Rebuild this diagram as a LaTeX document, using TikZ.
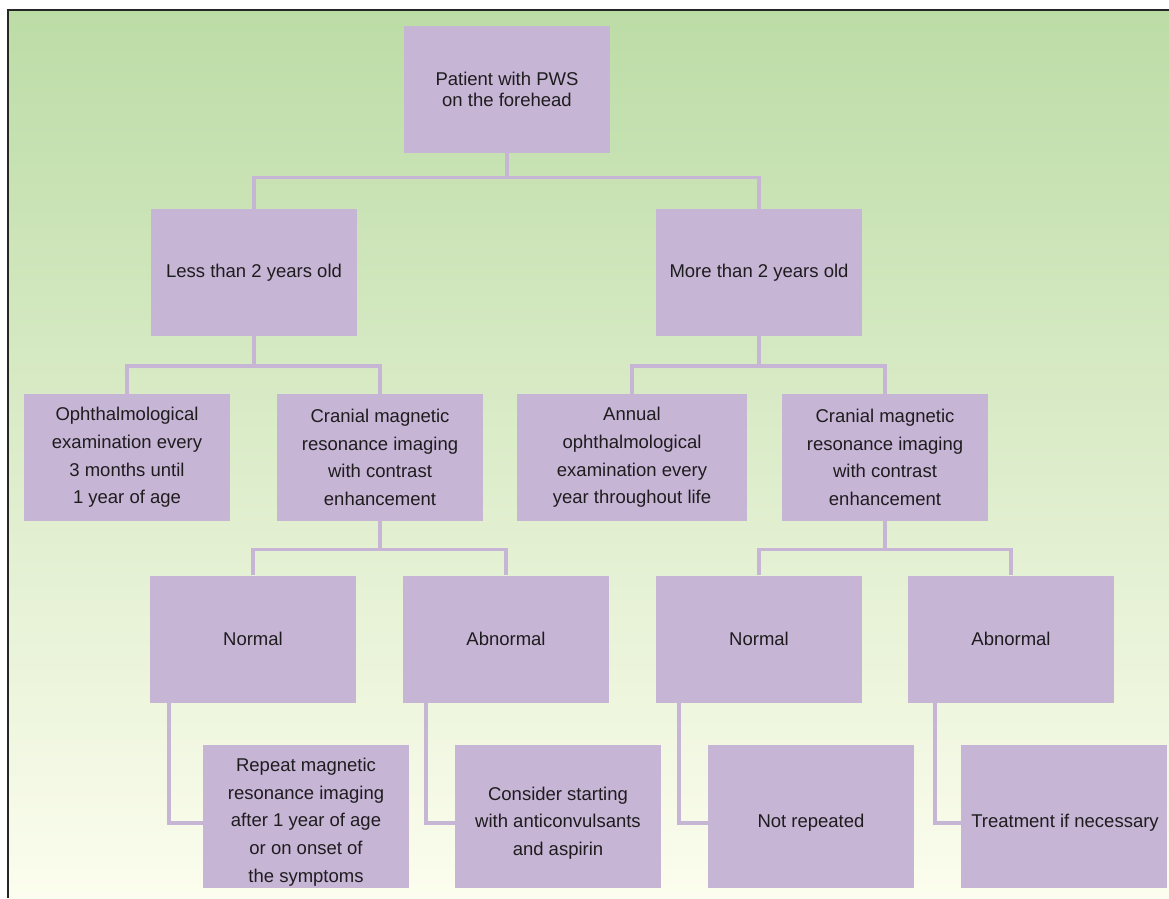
\documentclass[tikz,border=0pt]{standalone}
\usepackage{fontspec}
\setmainfont{Liberation Sans}
\definecolor{boxc}{RGB}{199,181,214}
\definecolor{linec}{RGB}{199,181,214}
\definecolor{bgtop}{RGB}{188,220,166}
\definecolor{bgbot}{RGB}{252,253,238}
\definecolor{txt}{RGB}{30,28,30}
\begin{document}
\begin{tikzpicture}[x=1pt,y=-1pt,
  box/.style={rectangle, fill=boxc, draw=none, inner sep=0pt,
    minimum width=206pt, minimum height=127pt, align=center, text=txt,
    font=\fontsize{18.5}{27.7}\selectfont},
  tallbox/.style={box, minimum height=143pt},
  lbl/.style={inner sep=0pt, align=center, text=txt, font=\fontsize{18.5}{27.7}\selectfont},
  conn/.style={draw=linec, line width=3.5pt}]
\useasboundingbox (0,0) rectangle (1169,898);
\shade[top color=bgtop, bottom color=bgbot] (8,10) rectangle (1169,898);
\draw[black!85, line width=1.6pt] (8,898) -- (8,10) -- (1169,10);

% level 1
\node[box, font=\fontsize{18.5}{21}\selectfont] (top) at (507,89.5) {Patient with PWS\\on the forehead};
% level 2
\node[box] (L2a) at (254,272.5) {Less than 2 years old};
\node[box] (L2b) at (759,272.5) {More than 2 years old};
% level 3
\node[box] (L3a) at (127,457.5) {Ophthalmological\\examination every\\3 months until\\1 year of age};
\node[box] (L3b) at (380,457.5) {Cranial magnetic\\resonance imaging\\with contrast\\enhancement};
\node[box, minimum width=230pt] (L3c) at (632,457.5) {Annual\\ophthalmological\\examination every\\year throughout life};
\node[box] (L3d) at (885,457.5) {Cranial magnetic\\resonance imaging\\with contrast\\enhancement};
% level 4
\node[box] (L4a) at (253,639) {Normal};
\node[box] (L4b) at (506,639) {Abnormal};
\node[box] (L4c) at (759,639) {Normal};
\node[box] (L4d) at (1011,639) {Abnormal};
% level 5
\node[tallbox] (L5a) at (306,816.5) {};
\node[tallbox] (L5b) at (558,816.5) {};
\node[tallbox] (L5c) at (811,816.5) {};
\node[tallbox] (L5d) at (1064,816.5) {};
\node[lbl] (L5at) at ([yshift=-5.5pt]L5a.center) {Repeat magnetic\\resonance imaging\\after 1 year of age\\or on onset of\\the symptoms};
\node[lbl] (L5bt) at ([yshift=-6.5pt]L5b.center) {Consider starting\\with anticonvulsants\\and aspirin};
\node[lbl] (L5ct) at ([yshift=-6.5pt]L5c.center) {Not repeated};
\node[lbl] (L5dt) at ([yshift=-6.5pt,xshift=1pt]L5d.center) {Treatment if necessary};

% connectors
\draw[conn] (top.south) -- ++(0,24.5);
\draw[conn] (L2a.north) -- ++(0,-31.5) -| (L2b.north);
\draw[conn] (L2a.south) -- ++(0,29);
\draw[conn] (L3a.north) -- ++(0,-28) -| (L3b.north);
\draw[conn] (L2b.south) -- ++(0,29);
\draw[conn] (L3c.north) -- ++(0,-28) -| (L3d.north);
\draw[conn] (L3b.south) -- ++(0,30);
\draw[conn] (L4a.north) -- ++(0,-26) -| (L4b.north);
\draw[conn] (L3d.south) -- ++(0,30);
\draw[conn] (L4c.north) -- ++(0,-26) -| (L4d.north);
\draw[conn] ([xshift=19pt]L4a.south west) |- ([yshift=-6.5pt]L5a.west);
\draw[conn] ([xshift=23pt]L4b.south west) |- ([yshift=-6.5pt]L5b.west);
\draw[conn] ([xshift=23pt]L4c.south west) |- ([yshift=-6.5pt]L5c.west);
\draw[conn] ([xshift=27pt]L4d.south west) |- ([yshift=-6.5pt]L5d.west);
\end{tikzpicture}
\end{document}
